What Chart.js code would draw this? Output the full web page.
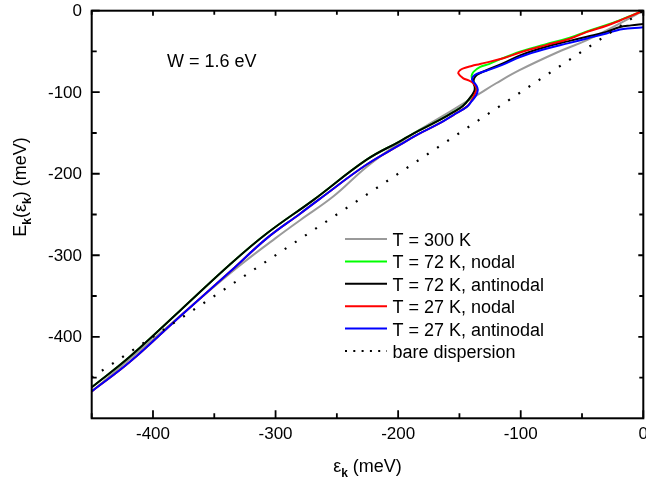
<!DOCTYPE html>
<html><head><meta charset="utf-8">
<script src="https://cdn.jsdelivr.net/npm/chart.js@4.4.1/dist/chart.umd.min.js"></script>
<style>html,body{margin:0;padding:0;background:#fff;overflow:hidden}</style>
</head><body>
<canvas id="c" width="646" height="487" style="width:646px;height:487px;display:block"></canvas>
<script>
// ---- data (meV) ----
const seriesNames = ['T = 300 K', 'T = 72 K, nodal', 'T = 72 K, antinodal', 'T = 27 K, nodal', 'T = 27 K, antinodal', 'bare dispersion'];
const seriesColors = ['#9a9a9a', '#00ff00', '#000000', '#ff0000', '#0000ff', '#000000'];

const t300X = [-450, -400, -337, -300, -280, -253, -226, -200, -188, -169, -147, -133, -120, -101, -70, -46, -19, 0];
const t300Y = [-467, -403, -322, -279, -257, -228, -192, -163, -151, -134, -114, -101, -89, -73, -51, -36, -15.5, 0];

const t72nodX = [-450, -419, -378, -337, -307, -269, -226, -199, -188, -166, -155, -147, -141.5, -138, -136.5, -137.5, -139.5, -140, -138.5, -133, -126, -120, -100, -80, -60, -46, -30, -19, -10, 0];
const t72nodY = [-462, -424.5, -368, -311, -273, -232, -183, -160.5, -151, -134, -124.5, -116.5, -107.5, -101, -95, -89.5, -84, -79.5, -75, -69, -65.5, -61.5, -50, -41.5, -33, -25.5, -17.5, -11.5, -6, 0];

const t72antiX = [-450, -419, -378, -337, -307, -269, -226, -199, -188, -166, -155, -147, -141.5, -138, -137.5, -138.5, -138, -135.5, -128, -115, -100, -80, -60, -46, -30, -19, -10, 0];
const t72antiY = [-462, -424.5, -368, -311, -273, -232, -183, -160.5, -151, -134, -124.5, -116.5, -107, -99, -94, -88.5, -83, -78.5, -73, -65, -54.5, -44.5, -37, -32, -26, -20, -18, -16.3];

const t27nodX = [-450, -419, -378, -337, -307, -280, -265, -226, -199, -185, -166, -155, -144, -140, -137.3, -136, -138.7, -142.5, -146.8, -150.9, -149.5, -146.8, -140, -133.2, -114.2, -100, -80, -60, -46, -30, -19, -10, 0];
const t27nodY = [-467, -431, -375, -320, -279, -249, -232, -189, -165, -152.5, -138, -128, -117.7, -110, -101.4, -95.2, -89, -85.5, -83, -76.8, -73, -70.7, -67.8, -65.4, -58.4, -51, -42.5, -34.5, -26, -18.5, -12, -6.3, 0];

const t27antiX = [-450, -419, -378, -337, -307, -280, -265, -226, -199, -185, -166, -155, -144, -140, -136.5, -135, -136.5, -139.5, -139, -136, -128, -115, -100, -80, -60, -46, -30, -19, -10, 0];
const t27antiY = [-467, -431, -375, -320, -279, -249, -232, -189, -165, -152.5, -138, -128, -118, -111, -104, -97, -91, -85.5, -81, -77.5, -73.6, -66.5, -56.5, -47, -39.5, -34, -28, -23, -21.5, -20.4];

const bareX = [-450, 0];
const bareY = [-450, 0];

const xRange = [-450, 0];
const yRange = [-500, 0];
const xMajorTicks = [-400, -300, -200, -100, 0];
const xMinorTicks = [-450, -350, -250, -150, -50];
const yMajorTicks = [-400, -300, -200, -100, 0];
const yMinorTicks = [-450, -350, -250, -150, -50];
const tickLabels = v => String(v);

// ---- build ----
const zip = (xs, ys) => xs.map((x, i) => ({x, y: ys[i]}));
const seriesX = [t300X, t72nodX, t72antiX, t27nodX, t27antiX, bareX];
const seriesY = [t300Y, t72nodY, t72antiY, t27nodY, t27antiY, bareY];

const datasets = seriesNames.map((name, i) => ({
  label: name,
  data: zip(seriesX[i], seriesY[i]),
  borderColor: seriesColors[i],
  backgroundColor: seriesColors[i],
  borderWidth: i === 5 ? 2.2 : 2,
  borderDash: i === 5 ? [2, 10.2] : [],
  borderCapStyle: 'butt',
  pointRadius: 0,
  tension: i === 5 ? 0 : 0.4,
  fill: false,
  order: 5 - i
}));

const FONT = '"Liberation Sans", Arial, sans-serif';

function richWidth(ctx, segs) {
  let w = 0;
  for (const s of segs) { ctx.font = s.font; w += ctx.measureText(s.t).width; }
  return w;
}
function drawRich(ctx, segs, x, y) {
  let cx = x;
  for (const s of segs) {
    ctx.font = s.font;
    ctx.fillText(s.t, cx, y + (s.dy || 0));
    cx += ctx.measureText(s.t).width;
  }
}

const decor = {
  id: 'decor',
  afterDatasetsDraw(chart) {
    const {ctx, chartArea: a, scales: {x, y}} = chart;
    ctx.save();
    ctx.strokeStyle = '#000';
    ctx.fillStyle = '#000';
    // frame
    ctx.lineWidth = 2;
    ctx.strokeRect(a.left, a.top, a.right - a.left, a.bottom - a.top);
    // ticks (inward)
    ctx.lineWidth = 1.8;
    ctx.beginPath();
    const xt = (vals, len, lenT) => vals.forEach(v => {
      const px = x.getPixelForValue(v);
      ctx.moveTo(px, a.bottom); ctx.lineTo(px, a.bottom - len);
      ctx.moveTo(px, a.top); ctx.lineTo(px, a.top + lenT);
    });
    const yt = (vals, len, lenR) => vals.forEach(v => {
      const py = y.getPixelForValue(v);
      ctx.moveTo(a.left, py); ctx.lineTo(a.left + len, py);
      ctx.moveTo(a.right, py); ctx.lineTo(a.right - lenR, py);
    });
    xt(xMajorTicks, 8, 5); xt(xMinorTicks, 5, 4);
    yt(yMajorTicks, 8, 5); yt(yMinorTicks, 5, 4);
    ctx.stroke();

    // tick labels
    ctx.font = '17px ' + FONT;
    ctx.textAlign = 'center'; ctx.textBaseline = 'middle';
    xMajorTicks.forEach(v => ctx.fillText(tickLabels(v), x.getPixelForValue(v), 434));
    ctx.textAlign = 'right';
    yMajorTicks.forEach(v => ctx.fillText(tickLabels(v), 82, y.getPixelForValue(v) + 1));

    // axis titles
    ctx.textAlign = 'left'; ctx.textBaseline = 'alphabetic';
    const big = '18px ' + FONT, sub = 'bold 12px ' + FONT;
    const xTitle = [{t: 'ε', font: big}, {t: 'k', font: sub, dy: 5}, {t: ' (meV)', font: big}];
    const xw = richWidth(ctx, xTitle);
    drawRich(ctx, xTitle, (a.left + a.right) / 2 - xw / 2, 471.5);

    const yTitle = [{t: 'E', font: big}, {t: 'k', font: sub, dy: 5}, {t: '(', font: big}, {t: 'ε', font: big}, {t: 'k', font: sub, dy: 5}, {t: ') (meV)', font: big}];
    const yw = richWidth(ctx, yTitle);
    ctx.save();
    ctx.translate(26, 187);
    ctx.rotate(-Math.PI / 2);
    drawRich(ctx, yTitle, -yw / 2, 0);
    ctx.restore();

    // annotation
    ctx.font = '18px ' + FONT;
    ctx.fillText('W = 1.6 eV', 167, 66.5);

    // legend
    for (let i = 0; i < seriesNames.length; i++) {
      const base = 246 + i * 22.4;
      const ly = base - 7;
      ctx.save();
      ctx.strokeStyle = seriesColors[i];
      ctx.lineWidth = 2;
      ctx.lineCap = 'butt';
      if (i === 5) ctx.setLineDash([2, 6.3]); else ctx.setLineDash([]);
      ctx.beginPath(); ctx.moveTo(345, ly); ctx.lineTo(387, ly); ctx.stroke();
      ctx.restore();
      ctx.font = '18px ' + FONT;
      ctx.fillStyle = '#000';
      ctx.fillText(seriesNames[i], 392.5, base);
    }
    ctx.restore();
  }
};

new Chart(document.getElementById('c'), {
  type: 'line',
  data: {datasets},
  options: {
    responsive: false,
    animation: false,
    devicePixelRatio: 1,
    layout: {padding: {left: 91.7, right: 2.7, top: 10.7, bottom: 68.7}},
    plugins: {legend: {display: false}, tooltip: {enabled: false}},
    scales: {
      x: {type: 'linear', display: false, min: xRange[0], max: xRange[1]},
      y: {type: 'linear', display: false, min: yRange[0], max: yRange[1]}
    }
  },
  plugins: [decor]
});
</script>
</body></html>
